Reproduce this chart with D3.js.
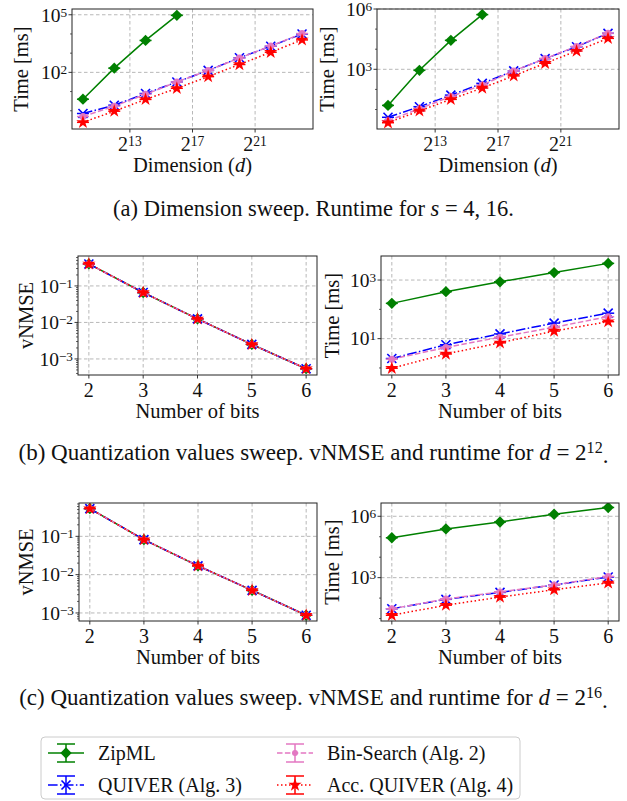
<!DOCTYPE html>
<html>
<head>
<meta charset="utf-8">
<script src="https://cdn.jsdelivr.net/npm/d3@7"></script>
<style>
body { margin: 0; background: #fff; }
svg, text, tspan { font-family: "Liberation Serif", "DejaVu Serif", serif; }
text { fill: #111; }
</style>
</head>
<body>
<div id="chart"></div>
<script>
// values
var dimExp = [10, 12, 14, 16, 18, 20, 22, 24];   // d = 2^k
var bits = [2, 3, 4, 5, 6];
var methods = ["ZipML", "QUIVER (Alg. 3)", "Bin-Search (Alg. 2)", "Acc. QUIVER (Alg. 4)"];

// (a) runtime [ms], s = 4  (ZipML only up to 2^16)
var zipS4 = [4, 166, 4600, 93000];
var quiverS4 = [0.72, 1.95, 7.9, 31.6, 126, 575, 2290, 10000];
var binS4 = [0.5, 1.74, 7.2, 31.6, 126, 560, 2340, 10500];
var accS4 = [0.25, 0.95, 3.9, 14.8, 60, 257, 1120, 4900];

// (a) runtime [ms], s = 16
var zipS16 = [16, 890, 27500, 525000];
var quiverS16 = [4.1, 13.8, 52, 200, 830, 3400, 13200, 61700];
var binS16 = [2.75, 11, 44, 166, 830, 3400, 13800, 63000];
var accS16 = [2.2, 8.5, 32, 117, 470, 2000, 8100, 34700];

// (b) d = 2^12
var nmse12 = [0.40, 0.066, 0.0125, 0.0025, 0.00054];
var zipT12 = [160, 400, 870, 1800, 3700];
var quiverT12 = [2.1, 6.2, 14.5, 34, 74];
var binT12 = [2.0, 5.0, 11.2, 24.5, 56];
var accT12 = [0.98, 3.0, 7.2, 18.2, 38];

// (c) d = 2^16
var nmse16 = [0.53, 0.082, 0.017, 0.0039, 0.00087];
var zipT16 = [89000, 240000, 525000, 1260000, 2700000];
var quiverT16 = [30, 87, 190, 437, 1070];
var binT16 = [30, 91, 200, 437, 1150];
var accT16 = [14.5, 45, 112, 257, 550];

var dimTicks = [13, 17, 21];

var colors = ["green", "blue", "#e377c2", "red"];
var dashes = [null, "9.6,2.4,1.5,2.4", "5.5,2.4", "1.5,2.5"];

var FONT = "Liberation Serif, DejaVu Serif, serif";
var W = 627, H = 801;
var svg = d3.select("#chart").append("svg")
    .attr("width", W)
    .attr("height", H)
    .attr("font-family", FONT);

function supText(sel, base, exp) {
    sel.text(null);
    sel.append("tspan").text(base);
    sel.append("tspan").attr("dy", "-0.38em").attr("font-size", "68%").text(exp);
}

function drawMarker(g, i, cx, cy, legend) {
    var c = colors[i];
    if (i === 0) {
        g.append("path")
            .attr("d", d3.symbol(d3.symbolSquare, 64)())
            .attr("transform", "translate(" + cx + "," + cy + ") rotate(45)")
            .attr("fill", c);
    } else if (i === 1) {
        var r = 4.5;
        g.append("path")
            .attr("d", "M" + (cx - r) + "," + (cy - r) + "L" + (cx + r) + "," + (cy + r) +
                "M" + (cx - r) + "," + (cy + r) + "L" + (cx + r) + "," + (cy - r))
            .attr("stroke", c).attr("stroke-width", 1.6).attr("fill", "none");
    } else if (i === 2) {
        g.append("circle").attr("cx", cx).attr("cy", cy).attr("r", legend ? 3 : 3.5).attr("fill", c);
    } else {
        g.append("path")
            .attr("d", d3.symbol(d3.symbolStar, 55)())
            .attr("transform", "translate(" + cx + "," + cy + ")")
            .attr("fill", c);
    }
}

function panel(opt) {
    var b = opt.box;
    var g = svg.append("g");
    var x, xTickVals;
    if (opt.xType === "dim") {
        x = d3.scaleLog().base(2).domain([Math.pow(2, 9.3), Math.pow(2, 24.7)]).range([b.x0, b.x1]);
        xTickVals = dimTicks.map(function (k) { return Math.pow(2, k); });
    } else {
        x = d3.scaleLinear().domain([1.8, 6.2]).range([b.x0, b.x1]);
        xTickVals = bits;
    }
    var y = d3.scaleLog().domain(opt.yDomain).range([b.y1, b.y0]);

    // grid
    g.selectAll(".gx").data(xTickVals).enter().append("line")
        .attr("x1", function (d) { return x(d); }).attr("x2", function (d) { return x(d); })
        .attr("y1", b.y0).attr("y2", b.y1)
        .attr("stroke", "#b0b0b0").attr("stroke-width", 0.9).attr("stroke-dasharray", "3.5,2.5");
    g.selectAll(".gy").data(opt.yTicks).enter().append("line")
        .attr("x1", b.x0).attr("x2", b.x1)
        .attr("y1", function (d) { return y(Math.pow(10, d)); })
        .attr("y2", function (d) { return y(Math.pow(10, d)); })
        .attr("stroke", "#b0b0b0").attr("stroke-width", 0.9).attr("stroke-dasharray", "3.5,2.5");

    // series
    var clip = "clip" + opt.id;
    svg.append("clipPath").attr("id", clip).append("rect")
        .attr("x", b.x0).attr("y", b.y0).attr("width", b.x1 - b.x0).attr("height", b.y1 - b.y0);
    var sg = g.append("g").attr("clip-path", "url(#" + clip + ")");
    opt.series.forEach(function (vals, i) {
        var pts = vals.map(function (v, j) {
            var xv = opt.xType === "dim" ? Math.pow(2, dimExp[j]) : bits[j];
            return [x(xv), y(v)];
        });
        sg.append("path")
            .attr("d", d3.line()(pts))
            .attr("fill", "none")
            .attr("stroke", colors[i])
            .attr("stroke-width", 1.5)
            .attr("stroke-dasharray", dashes[i]);
        pts.forEach(function (p) {
            sg.append("line")
                .attr("x1", p[0] - 6).attr("x2", p[0] + 6)
                .attr("y1", p[1]).attr("y2", p[1])
                .attr("stroke", colors[i]).attr("stroke-width", 1.5);
            drawMarker(sg, i, p[0], p[1], false);
        });
    });

    // frame
    g.append("rect")
        .attr("x", b.x0).attr("y", b.y0)
        .attr("width", b.x1 - b.x0).attr("height", b.y1 - b.y0)
        .attr("fill", "none").attr("stroke", "#222").attr("stroke-width", 1);

    // minor y ticks
    var lo = Math.floor(Math.log10(opt.yDomain[0]));
    var hi = Math.ceil(Math.log10(opt.yDomain[1]));
    var minor = [];
    for (var e = lo; e <= hi; e++) {
        if (opt.fineMinor) {
            for (var s = 2; s <= 9; s++) minor.push(s * Math.pow(10, e));
        } else if (opt.yTicks.indexOf(e) < 0) {
            minor.push(Math.pow(10, e));
        }
    }
    minor = minor.filter(function (v) { return v >= opt.yDomain[0] && v <= opt.yDomain[1]; });
    g.selectAll(".my").data(minor).enter().append("line")
        .attr("x1", b.x0 - 2).attr("x2", b.x0)
        .attr("y1", function (d) { return y(d); }).attr("y2", function (d) { return y(d); })
        .attr("stroke", "#222").attr("stroke-width", 0.7);

    // major y ticks
    opt.yTicks.forEach(function (e) {
        var yy = y(Math.pow(10, e));
        g.append("line").attr("x1", b.x0 - 3.5).attr("x2", b.x0).attr("y1", yy).attr("y2", yy)
            .attr("stroke", "#222").attr("stroke-width", 0.9);
        var t = g.append("text").attr("x", b.x0 - 5).attr("y", yy).attr("dy", "0.35em")
            .attr("text-anchor", "end").attr("font-size", 19.5);
        supText(t, "10", e < 0 ? "\u2212" + (-e) : "" + e);
    });

    // x ticks
    xTickVals.forEach(function (v, k) {
        var xx = x(v);
        g.append("line").attr("x1", xx).attr("x2", xx).attr("y1", b.y1).attr("y2", b.y1 + 3.5)
            .attr("stroke", "#222").attr("stroke-width", 0.9);
        var t = g.append("text").attr("x", xx).attr("y", b.y1 + 22)
            .attr("text-anchor", "middle").attr("font-size", 20);
        if (opt.xType === "dim") supText(t, "2", "" + dimTicks[k]);
        else t.text(v);
    });

    // axis labels
    var xl = g.append("text").attr("x", (b.x0 + b.x1) / 2).attr("y", b.y1 + 43)
        .attr("text-anchor", "middle").attr("font-size", 20.5);
    if (opt.xType === "dim") {
        xl.append("tspan").text("Dimension (");
        xl.append("tspan").attr("font-style", "italic").text("d");
        xl.append("tspan").text(")");
    } else {
        xl.text("Number of bits");
    }
    g.append("text")
        .attr("transform", "translate(" + opt.yLabelX + "," + (b.y0 + b.y1) / 2 + ") rotate(-90)")
        .attr("dy", "0.35em")
        .attr("text-anchor", "middle").attr("font-size", 20.5)
        .text(opt.yLabel);
}

panel({ id: "a1", box: { x0: 72, x1: 313, y0: 9, y1: 129 }, xType: "dim",
    yDomain: [Math.pow(10, -0.95), Math.pow(10, 5.3)], yTicks: [2, 5],
    yLabel: "Time [ms]", yLabelX: 21,
    series: [zipS4, quiverS4, binS4, accS4] });
panel({ id: "a2", box: { x0: 377, x1: 619, y0: 9, y1: 129 }, xType: "dim",
    yDomain: [Math.pow(10, 0.03), Math.pow(10, 6.0)], yTicks: [3, 6],
    yLabel: "Time [ms]", yLabelX: 327,
    series: [zipS16, quiverS16, binS16, accS16] });
panel({ id: "b1", box: { x0: 78, x1: 317, y0: 256, y1: 375 }, xType: "bits",
    yDomain: [Math.pow(10, -3.44), Math.pow(10, -0.18)], yTicks: [-1, -2, -3], fineMinor: true,
    yLabel: "vNMSE", yLabelX: 26,
    series: [nmse12, nmse12, nmse12, nmse12] });
panel({ id: "b2", box: { x0: 381, x1: 619, y0: 256, y1: 375 }, xType: "bits",
    yDomain: [Math.pow(10, -0.24), Math.pow(10, 3.82)], yTicks: [1, 3],
    yLabel: "Time [ms]", yLabelX: 332,
    series: [zipT12, quiverT12, binT12, accT12] });
panel({ id: "c1", box: { x0: 79, x1: 317, y0: 503, y1: 621 }, xType: "bits",
    yDomain: [Math.pow(10, -3.21), Math.pow(10, -0.13)], yTicks: [-1, -2, -3], fineMinor: true,
    yLabel: "vNMSE", yLabelX: 26,
    series: [nmse16, nmse16, nmse16, nmse16] });
panel({ id: "c2", box: { x0: 381, x1: 619, y0: 503, y1: 621 }, xType: "bits",
    yDomain: [Math.pow(10, 0.88), Math.pow(10, 6.65)], yTicks: [3, 6],
    yLabel: "Time [ms]", yLabelX: 332,
    series: [zipT16, quiverT16, binT16, accT16] });

// captions
function caption(yPos, size, parts) {
    var t = svg.append("text").attr("x", 313.5).attr("y", yPos)
        .attr("text-anchor", "middle").attr("font-size", size);
    parts.forEach(function (p) {
        var ts = t.append("tspan").text(p.t);
        if (p.i) ts.attr("font-style", "italic");
        if (p.sup) ts.attr("dy", "-0.45em").attr("font-size", "70%");
        if (p.down) ts.attr("dy", "0.45em");
    });
}
caption(216, 22.5, [{ t: "(a) Dimension sweep. Runtime for " }, { t: "s", i: true }, { t: " = 4, 16." }]);
caption(460, 23, [{ t: "(b) Quantization values sweep. vNMSE and runtime for " }, { t: "d", i: true },
    { t: " = 2" }, { t: "12", sup: true }, { t: ".", down: true }]);
caption(705, 23, [{ t: "(c) Quantization values sweep. vNMSE and runtime for " }, { t: "d", i: true },
    { t: " = 2" }, { t: "16", sup: true }, { t: ".", down: true }]);

// legend
var lg = svg.append("g");
lg.append("rect").attr("x", 41).attr("y", 737).attr("width", 479).attr("height", 62)
    .attr("rx", 4).attr("fill", "#fff").attr("stroke", "#cccccc").attr("stroke-width", 1);
var legendPos = [[66, 753], [66, 785], [295, 753], [295, 785]];
methods.forEach(function (m, i) {
    var cx = legendPos[i][0], cy = legendPos[i][1];
    lg.append("line").attr("x1", cx - 18).attr("x2", cx + 18).attr("y1", cy).attr("y2", cy)
        .attr("stroke", colors[i]).attr("stroke-width", 1.5).attr("stroke-dasharray", dashes[i]);
    lg.append("line").attr("x1", cx).attr("x2", cx).attr("y1", cy - 9).attr("y2", cy + 9)
        .attr("stroke", colors[i]).attr("stroke-width", 1.5);
    [-9, 9].forEach(function (o) {
        lg.append("line").attr("x1", cx - 9).attr("x2", cx + 9).attr("y1", cy + o).attr("y2", cy + o)
            .attr("stroke", colors[i]).attr("stroke-width", 1.5);
    });
    drawMarker(lg, i, cx, cy, true);
    lg.append("text").attr("x", cx + 32).attr("y", cy).attr("dy", "0.35em")
        .attr("font-size", 20).text(m);
});
</script>
</body>
</html>
